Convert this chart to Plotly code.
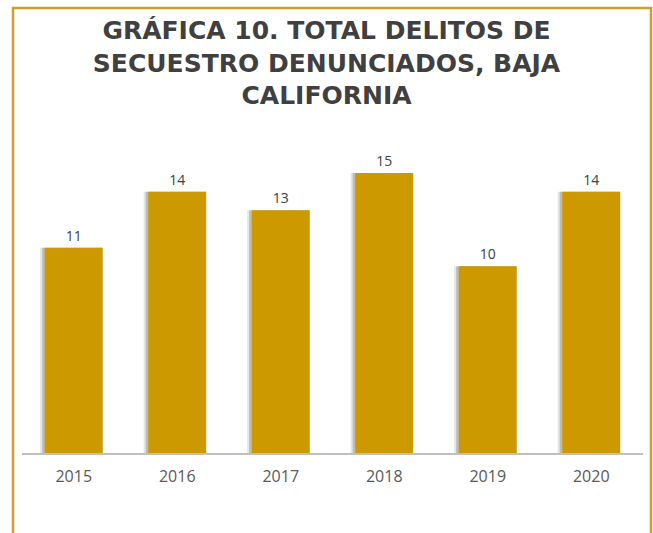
import plotly.graph_objects as go

years = ["2015", "2016", "2017", "2018", "2019", "2020"]
values = [11, 14, 13, 15, 10, 14]
title_text = "GRÁFICA 10. TOTAL DELITOS DE<br>SECUESTRO DENUNCIADOS, BAJA<br>CALIFORNIA"

W, H = 653, 533
L, R, T, B = 22, 10, 145, 80
pw = W - L - R
ph = H - T - B
FONT = "'Open Sans', Lato, sans-serif"
TFONT = "'DejaVu Sans', 'Open Sans', sans-serif"

def px_x(px):
    return (px - L) / pw

def px_y(py):
    return (H - B - py) / ph

fig = go.Figure()
# soft shadow behind bars (two layers for a blurred look)
fig.add_trace(go.Bar(
    x=years, y=values, width=0.60, offset=-0.325,
    marker=dict(color="rgba(0,0,0,0.10)", line=dict(width=0)),
    hoverinfo="skip", showlegend=False,
))
fig.add_trace(go.Bar(
    x=years, y=values, width=0.58, offset=-0.305,
    marker=dict(color="rgba(0,0,0,0.18)", line=dict(width=0)),
    hoverinfo="skip", showlegend=False,
))
fig.add_trace(go.Bar(
    x=years, y=values, width=0.56, offset=-0.28,
    marker=dict(color="#CC9900", line=dict(width=0)),
    text=[str(v) for v in values], textposition="outside",
    textfont=dict(family=FONT, size=14, color="#404040"),
    cliponaxis=False, showlegend=False,
))

fig.update_layout(
    width=W, height=H,
    margin=dict(l=L, r=R, t=T, b=B),
    paper_bgcolor="white", plot_bgcolor="white",
    barmode="overlay",
    title=dict(
        text=title_text, x=0.5, xanchor="center", y=1 - 39 / H, yanchor="middle",
        font=dict(family=TFONT, size=25, color="#404040", weight="bold"),
    ),
    xaxis=dict(
        showgrid=False, showline=True, linecolor="#BFBFBF", linewidth=2,
        ticks="", tickfont=dict(family=FONT, size=16, color="#595959"),
        ticklabelstandoff=8,
    ),
    yaxis=dict(range=[0, 16.5], visible=False, showgrid=False, zeroline=False),
    shapes=[
        dict(type="rect", xref="paper", yref="paper",
             x0=px_x(13), x1=px_x(651), y0=px_y(560), y1=px_y(8),
             line=dict(color="#C9A032", width=2.5), fillcolor="rgba(0,0,0,0)", layer="below"),
    ],
)

fig.write_html("out.html", config={"displayModeBar": False},
               post_script="document.body.style.margin='0';document.body.style.overflow='hidden';")
